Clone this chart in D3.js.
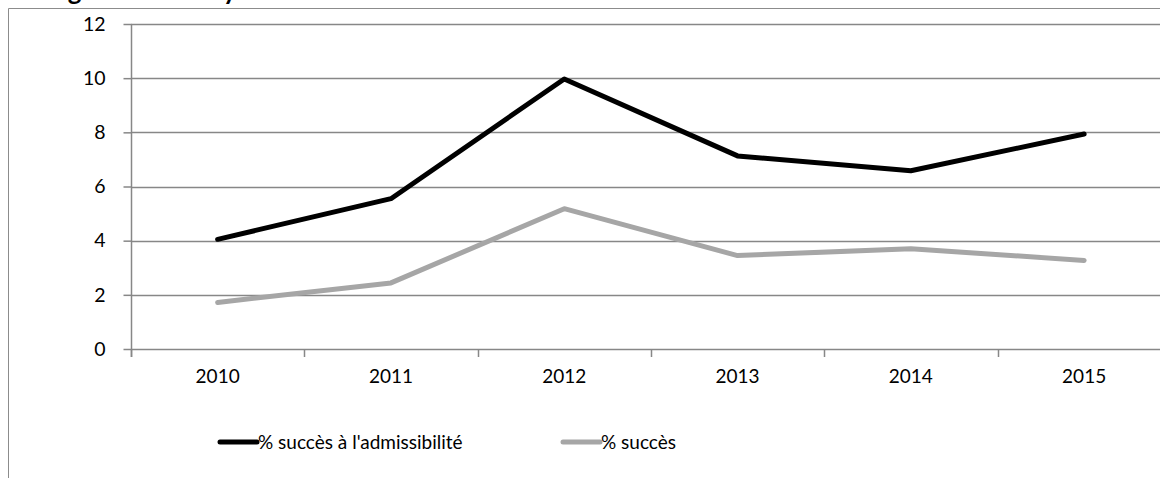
<!DOCTYPE html>
<html><head><meta charset="utf-8">
<script src="https://cdn.jsdelivr.net/npm/d3@7"></script>
<style>html,body{margin:0;padding:0;background:#fff;overflow:hidden}svg{display:block}</style>
</head><body>
<svg id="c" width="1160" height="478"></svg>
<script>
const years = ["2010","2011","2012","2013","2014","2015"];
const admissibilite = [4.05, 5.55, 9.97, 7.13, 6.58, 7.94];
const succes = [1.72, 2.44, 5.18, 3.45, 3.70, 3.27];
const yTicks = [0,2,4,6,8,10,12];
const seriesNames = ["% succès à l'admissibilité", "% succès"];
const titleText = "Biologie : ENS de Lyon";

const svg = d3.select("#c");
const font = "Lato, 'Open Sans', sans-serif";
const gridCol = "#878787";

// frame
svg.append("path").attr("d","M8.5,478 V8.5 H1160").attr("fill","none").attr("stroke","#8c8c8c").attr("stroke-width",1);
// cropped title (only the descenders show, as in the original)
svg.append("text").attr("x",8).attr("y",0).attr("font-family",font).attr("font-weight","bold")
  .attr("font-size",26).attr("fill","#000").text(titleText);

const x = d3.scaleBand().domain(years).range([131, 131 + 6*173.3]).padding(0);
const y = d3.scaleLinear().domain([0,12]).range([349, 24]);

// gridlines
svg.append("g").selectAll("line").data(yTicks).join("line")
  .attr("x1",131).attr("x2",1160).attr("y1",d=>Math.round(y(d))+0.5).attr("y2",d=>Math.round(y(d))+0.5)
  .attr("stroke",gridCol).attr("stroke-width",1.5);

// y axis
const ya = svg.append("g").attr("transform","translate(131.5,0)")
  .call(d3.axisLeft(y).tickValues(yTicks).tickSize(8).tickPadding(18).tickFormat(d3.format("d")));
ya.select(".domain").attr("stroke",gridCol).attr("stroke-width",1.5).attr("d","M0,"+y(12)+"V"+(y(0)+8));
ya.selectAll(".tick line").attr("stroke",gridCol).attr("stroke-width",1.5);
ya.selectAll(".tick text").attr("font-family",font).attr("font-size",19.5).attr("fill","#000");

// x axis
const xa = svg.append("g").attr("transform","translate(0,"+(y(0)+0.5)+")")
  .call(d3.axisBottom(x).tickSize(0).tickPadding(20));
xa.select(".domain").remove();
xa.selectAll(".tick text").attr("font-family",font).attr("font-size",19).attr("fill","#000");
svg.append("g").selectAll("line").data(years).join("line")
  .attr("x1",d=>Math.round(x(d))+0.5).attr("x2",d=>Math.round(x(d))+0.5)
  .attr("y1",y(0)).attr("y2",y(0)+8).attr("stroke",gridCol).attr("stroke-width",1.5);

// lines
const line = d3.line().x((d,i)=>x(years[i])+x.bandwidth()/2).y(d=>y(d));
svg.append("path").datum(succes).attr("d",line).attr("fill","none").attr("stroke","#a6a6a6")
  .attr("stroke-width",5).attr("stroke-linecap","round").attr("stroke-linejoin","round");
svg.append("path").datum(admissibilite).attr("d",line).attr("fill","none").attr("stroke","#000")
  .attr("stroke-width",5).attr("stroke-linecap","round").attr("stroke-linejoin","round");

// legend
const legX = [220, 563];
const legCol = ["#000","#a6a6a6"];
const lg = svg.append("g").selectAll("g").data(seriesNames).join("g")
  .attr("transform",(d,i)=>"translate("+legX[i]+",442)");
lg.append("line").attr("x1",0).attr("x2",37).attr("y1",0).attr("y2",0)
  .attr("stroke",(d,i)=>legCol[i]).attr("stroke-width",5).attr("stroke-linecap","round");
lg.append("text").attr("x",38).attr("y",0).attr("dy","0.35em").attr("font-family",font)
  .attr("font-size",19).attr("fill","#000").text(d=>d);
</script>
</body></html>
